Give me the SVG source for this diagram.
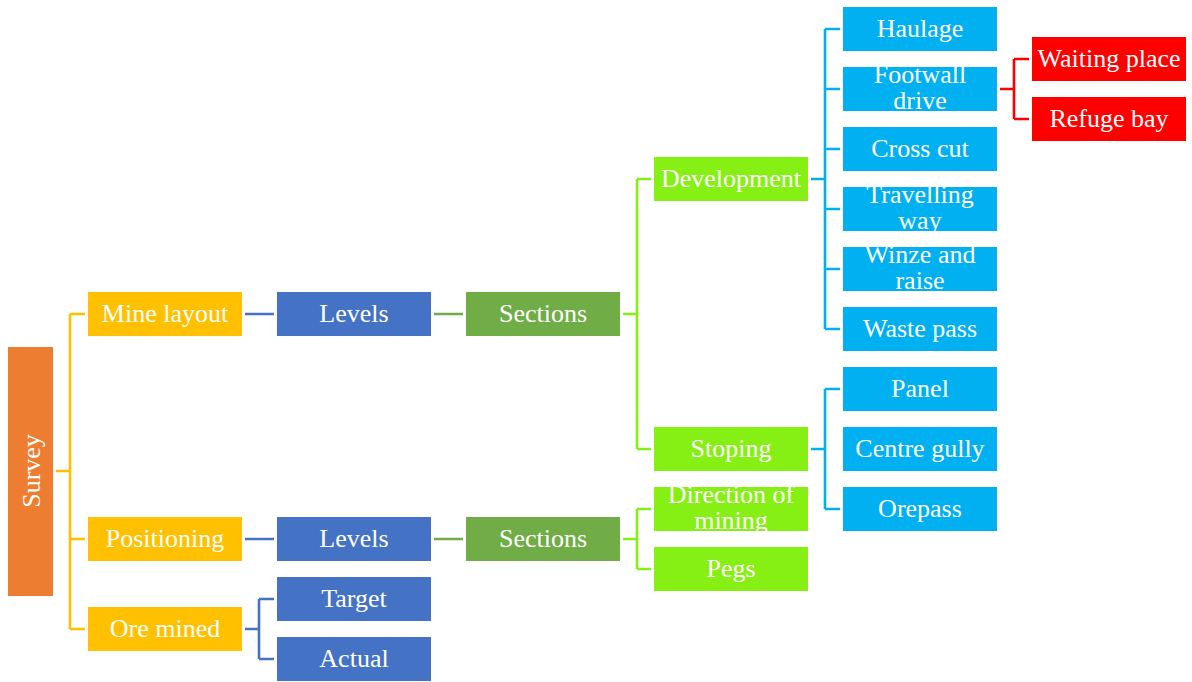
<svg xmlns="http://www.w3.org/2000/svg" width="1192" height="682" viewBox="0 0 1192 682">
  <style>
    text { font-family: "Liberation Serif", "Times New Roman", serif; font-size: 26px; fill: #ffffff; text-anchor: middle; }
    .c { fill: none; stroke-width: 2.6; }
    .orange { fill: #ED7D31; }
    .yellow { fill: #FFC000; }
    .blue { fill: #4472C4; }
    .green { fill: #70AD47; }
    .lime { fill: #86EF14; }
    .cyan { fill: #00B0F0; }
    .red { fill: #FF0000; }
  </style>

  <!-- connectors -->
  <g id="connectors">
    <path class="c" stroke="#FFC000" d="M56 471H70M70 314V629M70 314H85M70 539H85M70 629H85"/>
    <path class="c" stroke="#4472C4" d="M245 314H274M245 539H274M245 629H259M259 599V659M259 599H274M259 659H274"/>
    <path class="c" stroke="#70AD47" d="M434 314H463M434 539H463"/>
    <path class="c" stroke="#86EF14" d="M623 314H637M637 179V449M637 179H651M637 449H651M623 539H637M637 509V569M637 509H651M637 569H651"/>
    <path class="c" stroke="#00B0F0" d="M811 179H825M825 29V329M825 29H840M825 89H840M825 149H840M825 209H840M825 269H840M825 329H840M811 449H825M825 389V509M825 389H840M825 509H840"/>
    <path class="c" stroke="#FF0000" d="M1000 89H1014M1014 59V119M1014 59H1029M1014 119H1029"/>
  </g>

  <g id="survey">
    <rect class="orange" x="8" y="347" width="45" height="249"/>
    <text transform="translate(39.5 471) rotate(-90)">Survey</text>
  </g>

  <g id="mine-layout"><rect class="yellow" x="88" y="292" width="154" height="44"/><text x="165" y="322">Mine layout</text></g>
  <g id="positioning"><rect class="yellow" x="88" y="517" width="154" height="44"/><text x="165" y="547">Positioning</text></g>
  <g id="ore-mined"><rect class="yellow" x="88" y="607" width="154" height="44"/><text x="165" y="637">Ore mined</text></g>

  <g id="levels-1"><rect class="blue" x="277" y="292" width="154" height="44"/><text x="354" y="322">Levels</text></g>
  <g id="levels-2"><rect class="blue" x="277" y="517" width="154" height="44"/><text x="354" y="547">Levels</text></g>
  <g id="target"><rect class="blue" x="277" y="577" width="154" height="44"/><text x="354" y="607">Target</text></g>
  <g id="actual"><rect class="blue" x="277" y="637" width="154" height="44"/><text x="354" y="667">Actual</text></g>

  <g id="sections-1"><rect class="green" x="466" y="292" width="154" height="44"/><text x="543" y="322">Sections</text></g>
  <g id="sections-2"><rect class="green" x="466" y="517" width="154" height="44"/><text x="543" y="547">Sections</text></g>

  <g id="development"><rect class="lime" x="654" y="157" width="154" height="44"/><text x="731" y="187">Development</text></g>
  <g id="stoping"><rect class="lime" x="654" y="427" width="154" height="44"/><text x="731" y="457">Stoping</text></g>
  <g id="direction-of-mining"><rect class="lime" x="654" y="487" width="154" height="44"/><text x="731" y="503">Direction of</text><text x="731" y="529">mining</text></g>
  <g id="pegs"><rect class="lime" x="654" y="547" width="154" height="44"/><text x="731" y="577">Pegs</text></g>

  <g id="haulage"><rect class="cyan" x="843" y="7" width="154" height="44"/><text x="920" y="37">Haulage</text></g>
  <g id="footwall-drive"><rect class="cyan" x="843" y="67" width="154" height="44"/><text x="920" y="83">Footwall</text><text x="920" y="109">drive</text></g>
  <g id="cross-cut"><rect class="cyan" x="843" y="127" width="154" height="44"/><text x="920" y="157">Cross cut</text></g>
  <g id="travelling-way"><rect class="cyan" x="843" y="187" width="154" height="44"/><text x="920" y="203">Travelling</text><text x="920" y="229">way</text></g>
  <g id="winze-and-raise"><rect class="cyan" x="843" y="247" width="154" height="44"/><text x="920" y="263">Winze and</text><text x="920" y="289">raise</text></g>
  <g id="waste-pass"><rect class="cyan" x="843" y="307" width="154" height="44"/><text x="920" y="337">Waste pass</text></g>
  <g id="panel"><rect class="cyan" x="843" y="367" width="154" height="44"/><text x="920" y="397">Panel</text></g>
  <g id="centre-gully"><rect class="cyan" x="843" y="427" width="154" height="44"/><text x="920" y="457">Centre gully</text></g>
  <g id="orepass"><rect class="cyan" x="843" y="487" width="154" height="44"/><text x="920" y="517">Orepass</text></g>

  <g id="waiting-place"><rect class="red" x="1032" y="37" width="154" height="44"/><text x="1109" y="67">Waiting place</text></g>
  <g id="refuge-bay"><rect class="red" x="1032" y="97" width="154" height="44"/><text x="1109" y="127">Refuge bay</text></g>
</svg>
